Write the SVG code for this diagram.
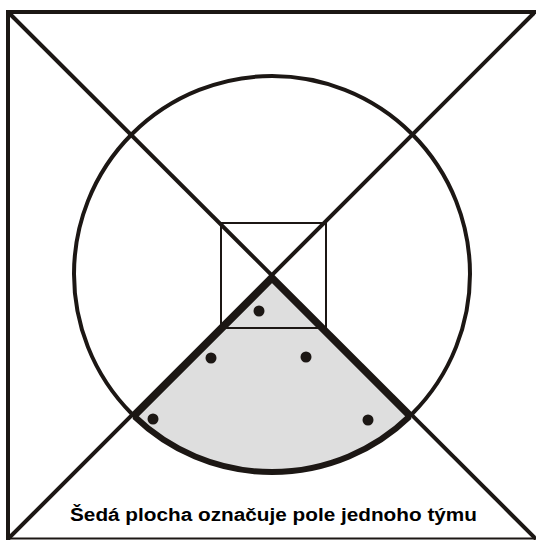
<svg xmlns="http://www.w3.org/2000/svg" width="536" height="540" viewBox="0 0 536 540">
<style>
.ln{stroke:#1c1714;fill:none;stroke-width:4}
.thk{stroke:#1c1714;fill:none;stroke-width:6;stroke-linejoin:miter}
.dot{fill:#1c1714}
text{font-family:"Liberation Sans",Arial,sans-serif;font-weight:bold;font-size:18px;fill:#000}
</style>
<rect width="536" height="540" fill="#ffffff"/>
<g id="field">
<path d="M272,279 L134.5,416.5 A198,198 0 0 0 409.5,416.5 Z" fill="#dedede"/>
<circle cx="272" cy="274" r="198" class="ln"/>
</g>
<g id="connectors">
<line x1="8" y1="12" x2="536" y2="12" class="ln"/>
<line x1="8" y1="10" x2="8" y2="540" class="ln"/>
<line x1="8" y1="538.5" x2="536" y2="538.5" stroke="#1c1714" stroke-width="2"/>
<line x1="10" y1="14" x2="536" y2="539" class="ln"/>
<line x1="8" y1="539" x2="534" y2="13" class="ln"/>
</g>
<g id="center-square">
<rect x="221" y="223" width="105" height="105" fill="none" stroke="#1c1714" stroke-width="2"/>
</g>
<g id="team-field">
<path d="M134.5,416.5 L272,279 L409.5,416.5" class="thk"/>
<path d="M134.5,416.5 A198,198 0 0 0 409.5,416.5" class="thk"/>
</g>
<g id="players">
<circle cx="259" cy="311" r="5.5" class="dot"/>
<circle cx="211" cy="358" r="5.5" class="dot"/>
<circle cx="306" cy="357" r="5.5" class="dot"/>
<circle cx="153" cy="419" r="5.5" class="dot"/>
<circle cx="368" cy="420" r="5.5" class="dot"/>
</g>
<g id="caption">
<text x="273.5" y="521" text-anchor="middle" textLength="407" lengthAdjust="spacingAndGlyphs">Šedá plocha označuje pole jednoho týmu</text>
</g>
</svg>
